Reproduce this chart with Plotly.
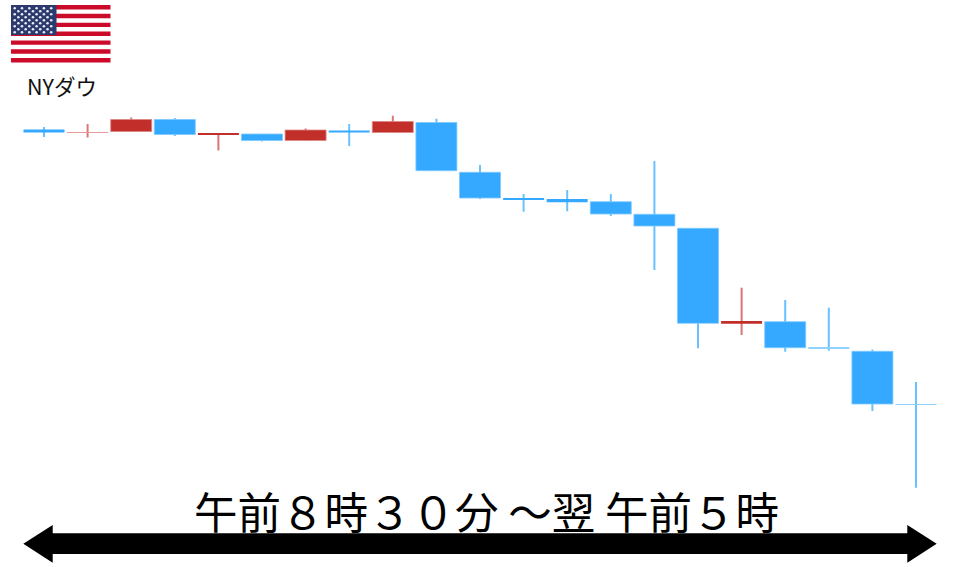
import plotly.graph_objects as go

# Candle values (price scale is arbitrary: 567 minus pixel row)
sessions = list(range(21))
open_ = [437.5, 434.0, 435.5, 447.5, 432.0, 433.0, 426.5, 436.5, 434.5, 444.5, 394.7,
         368.7, 368.0, 365.3, 352.7, 338.7, 243.3, 245.3, 219.3, 215.7, 163.0]
high_ = [440.0, 443.0, 449.5, 449.0, 434.0, 433.0, 438.5, 443.0, 451.3, 448.3, 402.0,
         373.0, 377.0, 373.0, 406.0, 338.7, 279.3, 267.0, 259.3, 217.5, 185.0]
low_ = [430.0, 429.5, 435.5, 431.0, 416.5, 425.5, 426.5, 421.0, 434.5, 396.3, 368.0,
        355.3, 355.7, 351.0, 297.0, 218.7, 232.0, 215.3, 216.3, 156.0, 79.3]
close_ = [434.5, 435.0, 447.5, 432.5, 433.5, 426.5, 437.0, 434.5, 445.5, 396.3, 369.0,
          367.0, 364.7, 353.0, 341.0, 243.7, 246.0, 219.3, 218.3, 163.0, 162.0]

flag_stripes = 13
flag_star_rows = 9
caption = "午前８時３０分 ～翌 午前５時"
flag_label = "NYダウ"

BLUE_FILL, BLUE_EDGE, BLUE_WICK, BLUE_THIN = "#35a9ff", "#7cc9ff", "#68c2ff", "#8fd2ff"
RED_FILL, RED_EDGE, RED_WICK, RED_THIN = "#c22f2a", "#dc8582", "#da7773", "#e59a97"


def is_up(o, c):
    return c >= o


wick_colors = [RED_WICK if is_up(o, c) else BLUE_WICK for o, c in zip(open_, close_)]
body_base = [min(o, c) for o, c in zip(open_, close_)]
body_size = [abs(c - o) for o, c in zip(open_, close_)]
body_colors = []
for o, c, s in zip(open_, close_, body_size):
    if is_up(o, c):
        body_colors.append(RED_THIN if s < 1.2 else RED_FILL)
    else:
        body_colors.append(BLUE_THIN if s < 1.2 else BLUE_FILL)
edge_colors = [RED_EDGE if is_up(o, c) else BLUE_EDGE for o, c in zip(open_, close_)]
edge_widths = [0.8 if s >= 4 else 0 for s in body_size]

fig = go.Figure()
# Wicks, then bodies on top of them
fig.add_trace(go.Bar(x=sessions, y=[h - l for h, l in zip(high_, low_)], base=low_,
                     width=0.046, marker=dict(color=wick_colors, line=dict(width=0)),
                     showlegend=False, hoverinfo="skip"))
fig.add_trace(go.Bar(x=sessions, y=body_size, base=body_base, width=0.94,
                     marker=dict(color=body_colors,
                                 line=dict(color=edge_colors, width=edge_widths)),
                     showlegend=False, hoverinfo="skip"))

# Flag: drawn on a second, pixel-sized pair of axes
FX0, FX1, FY0, FY1 = 11, 110.5, 5, 62.5
CX1, CY1 = 56.5, 35
shapes = [dict(type="rect", xref="x2", yref="y2", x0=FX0, x1=FX1, y0=FY0, y1=FY1,
               fillcolor="#ffffff", line=dict(width=0), layer="below")]
stripe_h = (FY1 - FY0) / flag_stripes
for s in range(0, flag_stripes, 2):
    shapes.append(dict(type="rect", xref="x2", yref="y2", x0=FX0, x1=FX1,
                       y0=FY0 + s * stripe_h, y1=FY0 + (s + 1) * stripe_h,
                       fillcolor="#cc0a2a", line=dict(width=0), layer="below"))
shapes.append(dict(type="rect", xref="x2", yref="y2", x0=FX0, x1=CX1, y0=FY0, y1=CY1,
                   fillcolor="#2c3a6e", line=dict(width=0), layer="below"))
# Double-headed arrow
shapes.append(dict(type="path", xref="x2", yref="y2",
                   path="M23.3,543.7 L52.7,525 L52.7,533.3 L907.3,533.3 L907.3,525 L936.7,543.7 "
                        "L907.3,562.7 L907.3,554 L52.7,554 L52.7,562.7 Z",
                   fillcolor="#000000", line=dict(width=0)))

star_x, star_y = [], []
for r in range(flag_star_rows):
    n = 6 if r % 2 == 0 else 5
    for c in range(n):
        star_x.append(FX0 + 3.7 + 7.3 * c + (3.65 if r % 2 else 0))
        star_y.append(FY0 + 3.2 + 3 * r)
fig.add_trace(go.Scatter(x=star_x, y=star_y, xaxis="x2", yaxis="y2", mode="markers",
                         marker=dict(color="#e8ebf4", size=2.6, line=dict(width=0)),
                         showlegend=False, hoverinfo="skip"))

hidden = dict(visible=False, showgrid=False, zeroline=False, fixedrange=True)
fig.update_layout(
    width=960, height=567, autosize=False,
    margin=dict(l=0, r=0, t=0, b=0),
    paper_bgcolor="#ffffff", plot_bgcolor="#ffffff",
    barmode="overlay",
    xaxis=dict(range=[-1.009, 21.009], **hidden),
    yaxis=dict(range=[0, 567], **hidden),
    xaxis2=dict(range=[0, 960], overlaying="x", anchor="y2", **hidden),
    yaxis2=dict(range=[567, 0], overlaying="y", anchor="x2", **hidden),
    shapes=shapes,
    annotations=[
        dict(xref="x2", yref="y2", x=486, y=510, text=caption, showarrow=False,
             font=dict(family="Noto Sans CJK JP", size=43.5, color="#000000")),
        dict(xref="x2", yref="y2", x=62, y=85, text=flag_label, showarrow=False,
             font=dict(family="Noto Sans CJK JP", size=21.5, color="#111111")),
    ],
)
fig.write_html("out.html", config=dict(displayModeBar=False),
               post_script="document.body.style.margin='0';document.documentElement.style.overflow='hidden';")
